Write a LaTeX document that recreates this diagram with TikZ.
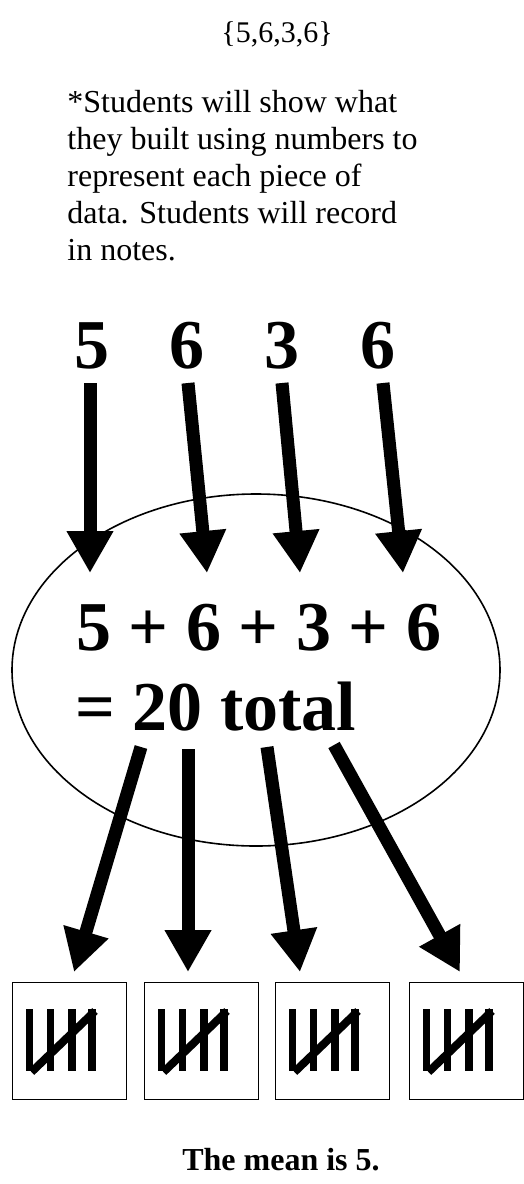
\documentclass[tikz,border=0pt]{standalone}
\usepackage{fontspec}
\setmainfont{Liberation Serif}
\usetikzlibrary{arrows.meta,shapes.geometric}

\tikzset{
  bigarrow/.style={line width=6.5pt,-{Triangle[length=21pt,width=22pt]}},
  bignum/.style={font=\fontsize{35}{40}\selectfont\bfseries,inner sep=0pt},
  tallybox/.style={draw,line width=0.7pt,minimum width=57pt,minimum height=58.5pt,inner sep=0pt},
  tallybar/.style={line width=3.8pt}
}

\begin{document}
\begin{tikzpicture}[x=0.5pt,y=-0.5pt]
    \useasboundingbox (0,0) rectangle (524,1184);

    % data set and note
    \node[anchor=base,font=\fontsize{15}{18}\selectfont,inner sep=0pt] (set) at (277,42) {\{5,6,3,6\}};
    \node[anchor=north west,align=left,inner sep=0pt,
          font=\fontsize{16}{18.5}\selectfont] (note) at (67,90)
      {*Students will show what\\they built using numbers to\\represent each piece of\\data. Students will record\\in notes.};

    % the four numbers
    \node[bignum,anchor=base] (n1) at (92,368) {5};
    \node[bignum,anchor=base] (n2) at (187,368) {6};
    \node[bignum,anchor=base] (n3) at (282,368) {3};
    \node[bignum,anchor=base] (n4) at (378,368) {6};

    % the sum
    \node[draw,ellipse,line width=0.8pt,minimum width=244pt,minimum height=176pt] (sum) at (256,670) {};
    \node[bignum,anchor=base west] (eq) at (76,650) {5 + 6 + 3 + 6};
    \node[bignum,anchor=base west] (tot) at (75,730) {= 20 total};

    \coordinate (t1) at (90,383);  \coordinate (h1) at (90,573);
    \coordinate (t2) at (188,383); \coordinate (h2) at (207,573);
    \coordinate (t3) at (282,383); \coordinate (h3) at (300,573);
    \coordinate (t4) at (383,383); \coordinate (h4) at (403,573);
    \foreach \i in {1,...,4}
      \draw[bigarrow] (t\i) -- (h\i);

    % boxes with tallies
    \node[tallybox,anchor=north west] (b1) at (12,982) {};
    \node[tallybox,anchor=north west] (b2) at (144,982) {};
    \node[tallybox,anchor=north west] (b3) at (275,982) {};
    \node[tallybox,anchor=north west] (b4) at (409,982) {};
    \foreach \b in {b1,b2,b3,b4} {
      \begin{scope}[shift={(\b.north west)}]
        \foreach \x in {17.5,38.5,60,80}
          \draw[tallybar] (\x,27) -- (\x,89);
        \draw[line width=4pt] (19.5,90) -- (83,29);
      \end{scope}
    }

    \coordinate (s1) at (141,747); \coordinate (e1) at (74,972);
    \coordinate (s2) at (188,749); \coordinate (e2) at (188,972);
    \coordinate (s3) at (267,747); \coordinate (e3) at (300,972);
    \coordinate (s4) at (334,745); \coordinate (e4) at (460,972);
    \foreach \i in {1,...,4}
      \draw[bigarrow] (s\i) -- (e\i);

    \node[anchor=base,font=\fontsize{16}{19}\selectfont\bfseries,inner sep=0pt] (mean) at (281,1170) {The mean is 5.};
\end{tikzpicture}
\end{document}
